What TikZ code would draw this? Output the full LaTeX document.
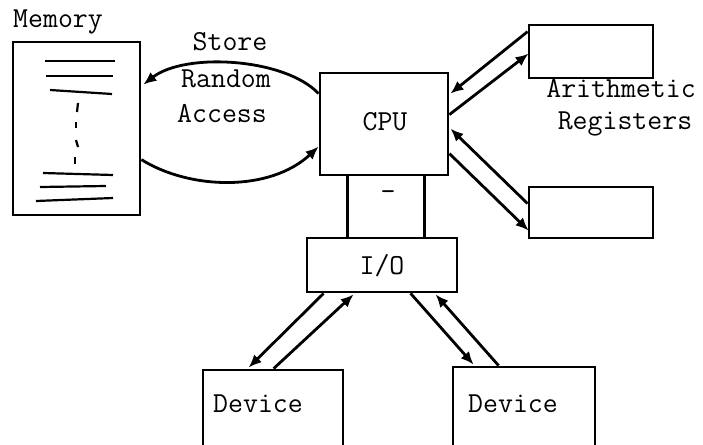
\documentclass[tikz,border=0pt]{standalone}
\usepackage{fontspec}
\usetikzlibrary{arrows.meta,calc}
\begin{document}
\begin{tikzpicture}[x=1pt,y=-1pt,
  box/.style={draw,line width=2.8pt,inner sep=0pt},
  lbl/.style={font=\ttfamily\fontsize{29}{33}\selectfont,inner sep=0pt},
  conn/.style={line width=2.8pt,-{Latex[length=13pt,width=11pt]}},
  plain/.style={line width=2.6pt}]
\useasboundingbox (0,0) rectangle (703,444);
% boxes
\node[box,minimum width=127pt,minimum height=173pt] (mem) at (76.5,128.5) {};
\node[box,minimum width=128pt,minimum height=102pt] (cpu) at (384,124) {};
\node[box,minimum width=150pt,minimum height=54pt] (io) at (382,265) {};
\node[box,minimum width=124pt,minimum height=53pt] (reg1) at (591,51.5) {};
\node[box,minimum width=124pt,minimum height=51pt] (reg2) at (591,212.5) {};
\node[box,minimum width=140pt,minimum height=80pt] (dev1) at (273,410) {};
\node[box,minimum width=142pt,minimum height=83pt] (dev2) at (524,408.5) {};
% labels
\node[lbl] (tmem) at (58,22) {Memory};
\node[lbl] (tcpu) at (385,122) {CPU};
\node[lbl] (tio) at (382,266) {I/O};
\node[lbl] (tdash) at (388,196) {-};
\node[lbl] (tar) at (621,89) {Arithmetic};
\node[lbl] (treg) at (625,124) {Registers};
\node[lbl] (tdev1) at (258,404) {Device};
\node[lbl] (tdev2) at (513,404) {Device};
\node[lbl] (tst) at (230,42) {Store};
\node[lbl] (tra) at (226,79) {Random};
\node[lbl] (tac) at (222,114) {Access};
% memory contents
\begin{scope}[line width=2.2pt]
\draw (45,61) -- (115,61);
\draw (46,76) -- (113,76);
\draw (50,90) -- (112,94);
\draw (78,103) -- (77,112);
\draw (76,122) -- (76,128);
\draw (76,140) -- (78,147);
\draw (75,157) -- (75,164);
\draw (43,173) -- (113,175);
\draw (40,187) -- (106,186);
\draw (36,201) -- (113,198);
\end{scope}
% CPU to I/O bus
\draw[plain] ($(cpu.south west)+(29,0)$) -- ($(io.north west)+(42,0)$);
\draw[plain] ($(cpu.south west)+(106,0)$) -- ($(io.north west)+(119,0)$);
% memory curves
\draw[conn] ($(cpu.north west)+(0,22)$) .. controls (285,58) and (185,52) .. ($(mem.north east)+(2,44)$);
\draw[conn] ($(mem.north east)+(0,119)$) .. controls (190,190) and (270,192) .. ($(cpu.north west)+(0,75)$);
% CPU <-> registers
\draw[conn] ($(reg1.north west)+(0,8)$) -- ($(cpu.north east)+(1,22)$);
\draw[conn] ($(cpu.north east)+(0,43)$) -- ($(reg1.north west)+(1,30)$);
\draw[conn] ($(reg2.north west)+(0,18)$) -- ($(cpu.north east)+(1,57)$);
\draw[conn] ($(cpu.north east)+(0,82)$) -- ($(reg2.north west)+(1,45)$);
% I/O <-> devices
\draw[conn] ($(io.south west)+(18,0)$) -- ($(dev1.north west)+(47,-1)$);
\draw[conn] ($(dev1.north west)+(72,0)$) -- ($(io.south west)+(48,1)$);
\draw[conn] ($(io.south west)+(105,0)$) -- ($(dev2.north west)+(22,-1)$);
\draw[conn] ($(dev2.north west)+(47,0)$) -- ($(io.south west)+(130,1)$);
\end{tikzpicture}
\end{document}
